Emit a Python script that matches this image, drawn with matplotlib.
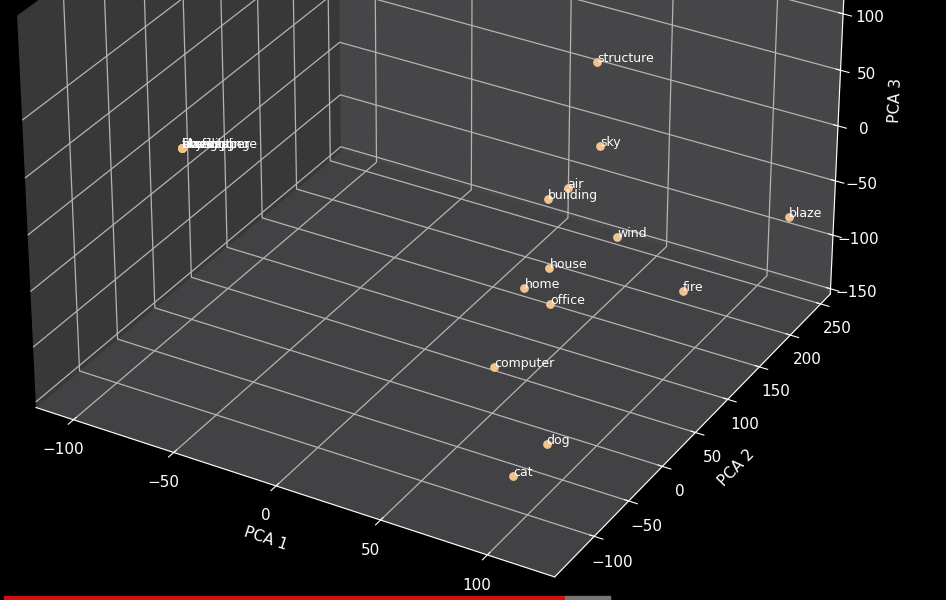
import matplotlib
matplotlib.use('Agg')
import matplotlib.pyplot as plt
from matplotlib.patches import Rectangle

# word positions after PCA
words = ['structure', 'sky', 'air', 'building', 'blaze', 'wind', 'house', 'home',
         'office', 'fire', 'computer', 'dog', 'cat',
         'atmosphere', 'firefighting', 'skyscraper', 'blazing', 'dwelling']
pca1 = [39, 47, 35, 28, 122, 55, 34, 29, 40, 79, 37, 84, 82.5, -100, -100, -100, -100, -100]
pca2 = [185, 166, 155, 147, 221, 170, 132, 110, 115, 198, 42, -24, -67, -6, -6, -6, -6, -6]
pca3 = [53, -8, -47, -56, -63, -89, -108, -117, -128, -142, -145, -148.5, -151.5, 5, 5, 5, 5, 5]

x_ticks = [-100, -50, 0, 50, 100]
y_ticks = [-100, -50, 0, 50, 100, 150, 200, 250]
z_ticks = [-150, -100, -50, 0, 50, 100]

plt.style.use('dark_background')
fig = plt.figure(figsize=(9.46, 6), dpi=100)
ax = fig.add_axes([-0.1976, -0.0586, 1.3, 1.539], projection='3d')

ax.scatter(pca1, pca2, pca3, color='#f2c38f', s=28, depthshade=False, alpha=1)
for w, x, y, z in zip(words, pca1, pca2, pca3):
    ax.text(x, y, z, w, color='white', fontsize=9)

ax.set_xlim(-119, 131)
ax.set_ylim(-156, 266)
ax.set_zlim(-155, 188)
ax.set_xticks(x_ticks)
ax.set_yticks(y_ticks)
ax.set_zticks(z_ticks)
ax.tick_params(labelsize=11)
ax.set_xlabel('PCA 1', fontsize=11)
ax.set_ylabel('PCA 2', fontsize=11)
ax.set_zlabel('PCA 3', fontsize=11)

ax.xaxis.set_pane_color('#383838')
ax.yaxis.set_pane_color('#464648')
ax.zaxis.set_pane_color('#424244')
for a in (ax.xaxis, ax.yaxis, ax.zaxis):
    a._axinfo['grid']['color'] = '#b4b4b4'
    a._axinfo['grid']['linewidth'] = 0.9

ax.view_init(elev=30, azim=-60)

# video progress bar at the bottom of the screenshot
fig.add_artist(Rectangle((0.004, 0.0), 0.593, 0.006, color='#d01010', transform=fig.transFigure))
fig.add_artist(Rectangle((0.597, 0.0), 0.048, 0.006, color='#777777', transform=fig.transFigure))

fig.savefig('out.png', dpi=100, facecolor='black')
